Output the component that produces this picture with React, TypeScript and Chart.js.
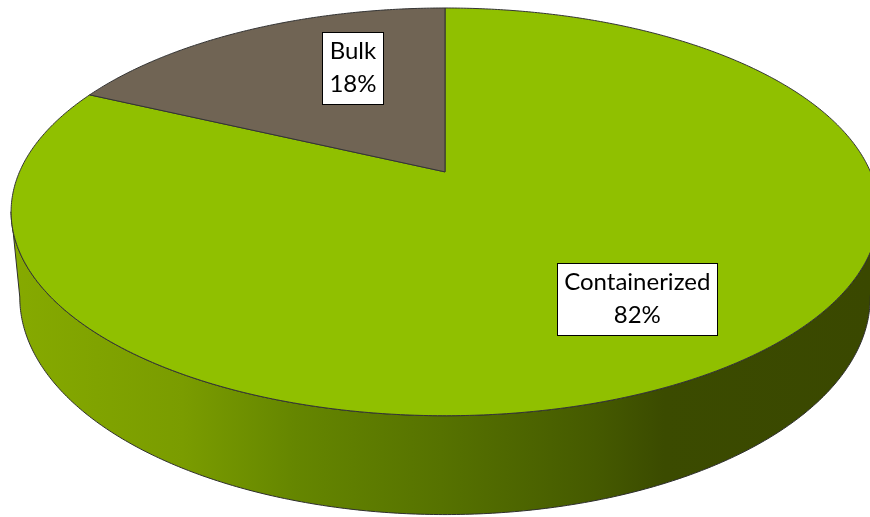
import React, { useEffect, useRef } from 'react';
import { Chart, registerables } from 'chart.js';
Chart.register(...registerables);

const categories = ['Containerized', 'Bulk'];
const shares = [82, 18];
const topColors = ['#90C000', '#706454'];
const sideStops: [number, string][][] = [
  [[0, '#86aa00'], [0.2, '#7a9c00'], [0.33, '#658600'], [0.5, '#567200'], [0.68, '#455a00'], [0.76, '#3b4b00'], [1, '#3a4800']],
  [[0, '#6a5f50'], [0.5, '#4e463b'], [1, '#3a342c']],
];

const pie3d = {
  id: 'pie3d',
  beforeDatasetsDraw(chart: any) {
    const meta = chart.getDatasetMeta(0);
    const arcs = meta.data;
    if (!arcs.length) return false;
    const a0 = arcs[0];
    const R = a0.outerRadius, ax = a0.x, ay = a0.y;
    const CX = ax + 0.0387 * R, A = 1.646 * R, G = -0.196, D = 0.628 * R, CY = ay - 0.335 * R, H = 0.32 * R;
    const proj = (ang: number, r: number, z: number) => {
      const u = Math.cos(ang) * r, v = Math.sin(ang) * r;
      const den = 1 + G * v;
      const k = 1 - 0.02 * z;
      return [CX + (k * A * u) / den, (k * D * v + CY + z * H) / den];
    };
    chart.$proj = proj;
    const ctx = chart.ctx;
    ctx.save();
    // visible range of the side wall (front, between left/right silhouettes)
    let tR = 0, tL = Math.PI, xR = -1e9, xL = 1e9;
    for (let k = 0; k <= 1440; k++) {
      const t = -Math.PI / 2 + (k / 1440) * Math.PI * 2;
      const p = proj(t, 1, 0);
      if (p[0] > xR) { xR = p[0]; tR = t; }
      if (p[0] < xL) { xL = p[0]; tL = t; }
    }
    const grads = sideStops.map((st) => {
      const g = ctx.createLinearGradient(xL, 0, CX + A, 0);
      st.forEach(([o, c]) => g.addColorStop(o, c));
      return g;
    });
    arcs.forEach((arc: any, i: number) => {
      const s = arc.startAngle, e = arc.endAngle;
      const segs: [number, number][] = [];
      const ranges: [number, number][] = [[s, e], [s - Math.PI * 2, e - Math.PI * 2], [s + Math.PI * 2, e + Math.PI * 2]];
      ranges.forEach(([a, b]) => {
        const lo = Math.max(a, tR), hi = Math.min(b, tL);
        if (hi > lo) segs.push([lo, hi]);
      });
      segs.forEach(([lo, hi]) => {
        const n = Math.max(2, Math.ceil((hi - lo) / (Math.PI / 360)));
        ctx.beginPath();
        for (let j = 0; j <= n; j++) {
          const p = proj(lo + ((hi - lo) * j) / n, 1, 0);
          if (j === 0) ctx.moveTo(p[0], p[1]);
          else ctx.lineTo(p[0], p[1]);
        }
        for (let j = n; j >= 0; j--) {
          const p = proj(lo + ((hi - lo) * j) / n, 1, 1);
          ctx.lineTo(p[0], p[1]);
        }
        ctx.closePath();
        ctx.fillStyle = grads[i] || grads[0];
        ctx.fill();
        ctx.strokeStyle = '#2e2e2e';
        ctx.lineWidth = 1;
        ctx.stroke();
      });
    });
    // top faces
    arcs.forEach((arc: any, i: number) => {
      const s = arc.startAngle, e = arc.endAngle;
      const n = Math.max(2, Math.ceil((e - s) / (Math.PI / 360)));
      const c = proj(0, 0, 0);
      ctx.beginPath();
      ctx.moveTo(c[0], c[1]);
      for (let j = 0; j <= n; j++) {
        const p = proj(s + ((e - s) * j) / n, 1, 0);
        ctx.lineTo(p[0], p[1]);
      }
      ctx.closePath();
      ctx.fillStyle = topColors[i];
      ctx.fill();
      ctx.strokeStyle = '#333333';
      ctx.lineWidth = 1;
      ctx.stroke();
    });
    ctx.restore();
    return false;
  },
  afterDraw(chart: any, _args: any, opts: any) {
    const proj = chart.$proj;
    if (!proj) return;
    const ctx = chart.ctx;
    const meta = chart.getDatasetMeta(0);
    const total = shares.reduce((a, b) => a + b, 0);
    ctx.save();
    ctx.font = '24px Lato, "Open Sans", sans-serif';
    ctx.textAlign = 'center';
    ctx.textBaseline = 'middle';
    meta.data.forEach((arc: any, i: number) => {
      const mid = (arc.startAngle + arc.endAngle) / 2;
      const p = proj(mid, opts.labelRadius[i], 0);
      const x = p[0] + opts.labelShift[i][0];
      const y = p[1] + opts.labelShift[i][1];
      const l1 = categories[i];
      const l2 = Math.round((shares[i] / total) * 100) + '%';
      const w = Math.round(Math.max(ctx.measureText(l1).width, ctx.measureText(l2).width) + 14);
      const h = 72;
      const bx = Math.round(x - w / 2) + 0.5, by = Math.round(y - h / 2) + 0.5;
      ctx.fillStyle = '#ffffff';
      ctx.fillRect(bx, by, w, h);
      ctx.strokeStyle = '#000000';
      ctx.lineWidth = 1;
      ctx.strokeRect(bx, by, w, h);
      ctx.fillStyle = '#000000';
      ctx.fillText(l1, x, y - 17);
      ctx.fillText(l2, x, y + 16);
    });
    ctx.restore();
  },
};

export default function App() {
  const ref = useRef<HTMLCanvasElement | null>(null);
  useEffect(() => {
    if (!ref.current) return;
    const chart = new Chart(ref.current, {
      type: 'pie',
      data: {
        labels: categories,
        datasets: [{ data: shares, backgroundColor: topColors, borderWidth: 0 }],
      },
      options: {
        responsive: false,
        animation: false,
        devicePixelRatio: 1,
        rotation: 0,
        layout: { padding: 0 },
        plugins: {
          legend: { display: false },
          tooltip: { enabled: false },
          pie3d: { labelRadius: [0.74, 0.7], labelShift: [[0, -12], [51, 0]] },
        } as any,
      },
      plugins: [pie3d as any],
    });
    return () => chart.destroy();
  }, []);
  return (
    <div style={{ position: 'fixed', left: 0, top: 0, width: 870, height: 517, background: '#ffffff' }}>
      <canvas ref={ref} width={870} height={517} style={{ display: 'block' }} />
    </div>
  );
}
